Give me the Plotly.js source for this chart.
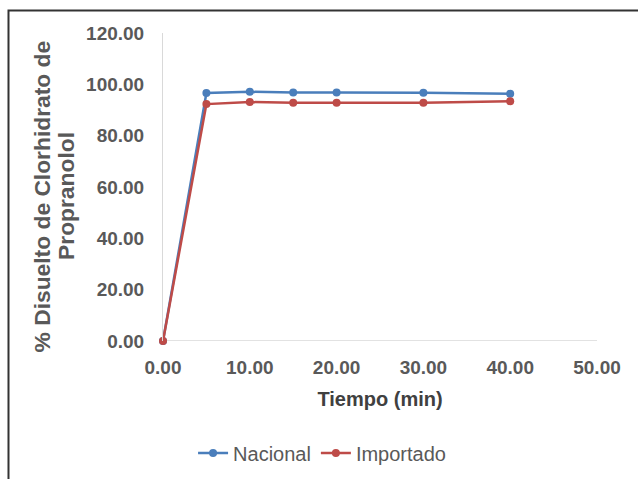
<!DOCTYPE html>
<html>
<head>
<meta charset="utf-8">
<script src="https://cdn.plot.ly/plotly-3.0.1.min.js"></script>
<style>
  html, body { margin: 0; padding: 0; background: #fff; }
  #chart { width: 638px; height: 479px; }
</style>
</head>
<body>
<div id="chart"></div>
<script>
// Dissolution time points (min)
const tiempo = [0, 5, 10, 15, 20, 30, 40];
// % dissolved, national product
const nacional = [0, 96.6, 97.1, 96.8, 96.8, 96.7, 96.3];
// % dissolved, imported product
const importado = [0, 92.3, 93.1, 92.8, 92.8, 92.8, 93.4];
// Y-axis title, split over two lines
const yTitleLines = ['% Disuelto de Clorhidrato de', 'Propranolol'];

const baseFamily = '"Liberation Sans", Arial, sans-serif';
const tickFont = { family: baseFamily, size: 19, color: '#595959', weight: 'bold' };

const traces = [
  {
    x: tiempo, y: nacional, name: 'Nacional', type: 'scatter', mode: 'lines+markers',
    cliponaxis: false,
    line: { color: '#4A7EBB', width: 2.5 }, marker: { color: '#4A7EBB', size: 8 }
  },
  {
    x: tiempo, y: importado, name: 'Importado', type: 'scatter', mode: 'lines+markers',
    cliponaxis: false,
    line: { color: '#BE4B48', width: 2.5 }, marker: { color: '#BE4B48', size: 8 }
  }
];

const layout = {
  width: 638, height: 479,
  margin: { l: 163, r: 41, t: 33, b: 138, autoexpand: false },
  paper_bgcolor: '#fff', plot_bgcolor: '#fff',
  showlegend: true,
  legend: {
    orientation: 'h', x: 0.3665, xanchor: 'center',
    y: -0.364, yanchor: 'middle',
    font: { family: baseFamily, size: 20, color: '#595959' }
  },
  xaxis: {
    range: [0, 50], dtick: 10, tickformat: '.2f', tickangle: 0,
    showgrid: false, zeroline: false, showline: false, ticks: '',
    automargin: false,
    ticklabelstandoff: 13,
    tickfont: tickFont,
    title: { text: 'Tiempo (min)', font: { family: baseFamily, size: 20, color: '#404040', weight: 'bold' }, standoff: 14 }
  },
  yaxis: {
    range: [0, 120], dtick: 20, tickformat: '.2f',
    showgrid: false, zeroline: false,
    showline: true, linecolor: '#d9d9d9', linewidth: 1, ticks: '',
    automargin: false,
    ticklabelstandoff: 14,
    tickfont: tickFont
  },
  annotations: yTitleLines.map((t, i) => ({
    text: t, textangle: -90, showarrow: false,
    xref: 'paper', yref: 'paper', x: i === 0 ? -0.28 : -0.2235, y: 0.471,
    xanchor: 'center', yanchor: 'middle',
    font: { family: baseFamily, size: 22.8, color: '#595959', weight: 'bold' }
  })),
  shapes: [
    // baseline along y = 0
    { type: 'line', xref: 'paper', yref: 'y', x0: 0, x1: 1, y0: 0, y1: 0, line: { color: '#d9d9d9', width: 1.5 }, layer: 'below' },
    // outer frame
    { type: 'rect', xref: 'paper', yref: 'paper', x0: -0.356, x1: 1.2, y0: -0.6, y1: 1.073, line: { color: '#333', width: 2 } }
  ]
};

Plotly.newPlot('chart', traces, layout, { displayModeBar: false, staticPlot: true });
</script>
</body>
</html>
